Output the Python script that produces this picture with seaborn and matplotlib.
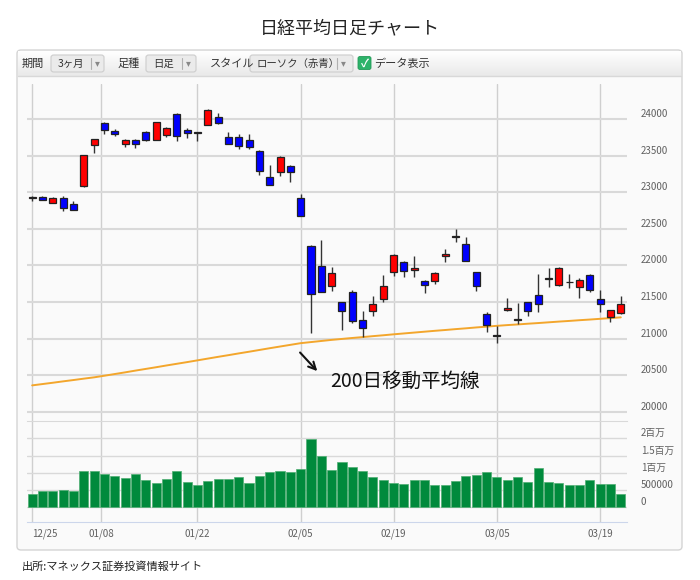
import numpy as np
import pandas as pd
import matplotlib
matplotlib.use("Agg")
import matplotlib.pyplot as plt
import seaborn as sns
from matplotlib.patches import FancyBboxPatch
from matplotlib.lines import Line2D
from matplotlib.colors import LinearSegmentedColormap

# ---------------- data ----------------
dates = ["12/25", "12/26", "12/27", "12/28", "12/29",
         "01/04", "01/05", "01/09", "01/10", "01/11", "01/12", "01/15", "01/16", "01/17",
         "01/18", "01/19", "01/22", "01/23", "01/24", "01/25", "01/26", "01/29", "01/30",
         "01/31", "02/01", "02/02", "02/05", "02/06", "02/07", "02/08", "02/09", "02/13",
         "02/14", "02/15", "02/16", "02/19", "02/20", "02/21", "02/22", "02/23", "02/26",
         "02/27", "02/28", "03/01", "03/02", "03/05", "03/06", "03/07", "03/08", "03/09",
         "03/12", "03/13", "03/14", "03/15", "03/16", "03/19", "03/20", "03/22"]

opens = [22918, 22932, 22859, 22918, 22836, 23082, 23645, 23950, 23841, 23659,
         23718, 23827, 23718, 23782, 24073, 23850, 23816, 23918, 24023, 23753,
         23753, 23708, 23566, 23209, 23278, 23365, 22926, 22262, 21997, 21713,
         21503, 21631, 21256, 21380, 21540, 21905, 22052, 21938, 21787, 21782,
         22130, 22390, 22294, 21906, 21334, 21040, 21384, 21258, 21494, 21594,
         21821, 21736, 21770, 21700, 21869, 21535, 21297, 21343]
highs = [22955, 22950, 22932, 22955, 22882, 23509, 23727, 23964, 23868, 23727,
         23732, 23841, 23964, 23895, 24086, 23873, 23820, 24133, 24078, 23826,
         23803, 23790, 23575, 23378, 23497, 23369, 22972, 22280, 22354, 21974,
         21503, 21668, 21370, 21576, 21874, 22157, 22066, 22134, 21800, 21915,
         22226, 22500, 22386, 21906, 21357, 21165, 21549, 21480, 21494, 21883,
         21960, 21974, 21883, 21823, 21883, 21663, 21384, 21576]
lows = [22886, 22891, 22855, 22745, 22759, 23077, 23532, 23795, 23768, 23614,
        23600, 23700, 23714, 23750, 23705, 23745, 23703, 23918, 23932, 23653,
        23598, 23589, 23241, 23104, 23219, 23141, 22675, 21082, 21631, 21654,
        21119, 21210, 21028, 21311, 21503, 21860, 21837, 21837, 21622, 21745,
        22043, 22326, 22066, 21654, 21092, 20936, 21380, 21197, 21311, 21366,
        21700, 21713, 21686, 21553, 21640, 21366, 21220, 21338]
closes = [22941, 22895, 22918, 22791, 22764, 23505, 23723, 23850, 23791, 23709,
          23659, 23714, 23955, 23873, 23768, 23814, 23813, 24123, 23941, 23666,
          23634, 23621, 23292, 23104, 23484, 23278, 22675, 21604, 21640, 21892,
          21380, 21242, 21142, 21466, 21713, 22143, 21924, 21965, 21736, 21896,
          22157, 22395, 22066, 21723, 21183, 21037, 21416, 21261, 21370, 21466,
          21823, 21960, 21768, 21796, 21668, 21471, 21384, 21476]
volume_m = [0.40, 0.47, 0.47, 0.49, 0.47, 1.06, 1.06, 0.96, 0.90, 0.85,
            0.96, 0.78, 0.70, 0.82, 1.04, 0.74, 0.65, 0.75, 0.82, 0.82,
            0.88, 0.71, 0.91, 1.03, 1.06, 1.01, 1.11, 1.97, 1.50, 1.08,
            1.31, 1.18, 1.06, 0.88, 0.80, 0.71, 0.68, 0.80, 0.78, 0.65,
            0.65, 0.75, 0.90, 0.93, 1.01, 0.88, 0.78, 0.88, 0.73, 1.14,
            0.74, 0.71, 0.65, 0.65, 0.78, 0.68, 0.68, 0.39]
ma200 = [20360, 20378, 20396, 20415, 20433, 20452, 20470, 20492, 20515, 20538,
         20562, 20585, 20608, 20632, 20655, 20678, 20702, 20726, 20750, 20773,
         20797, 20820, 20844, 20868, 20891, 20914, 20937, 20952, 20967, 20982,
         20995, 21008, 21020, 21033, 21045, 21058, 21070, 21082, 21094, 21106,
         21117, 21129, 21140, 21152, 21163, 21174, 21184, 21193, 21203, 21212,
         21222, 21232, 21241, 21251, 21260, 21270, 21280, 21290]

price_ticks = [20000, 20500, 21000, 21500, 22000, 22500, 23000, 23500, 24000]
date_tick_labels = ["12/25", "01/08", "01/22", "02/05", "02/19", "03/05", "03/19"]
date_tick_pos = [0, 6.7, 16, 26, 35, 45, 55]
vol_ticks = [0, 0.5, 1.0, 1.5, 2.0]
vol_tick_labels = ["0", "500000", "1百万", "1.5百万", "2百万"]

title = "日経平均日足チャート"
annotation = "200日移動平均線"
source = "出所:マネックス証券投資情報サイト"

# ---------------- style ----------------
sns.set_style("white")
plt.rcParams['font.family'] = ['Noto Sans CJK JP', 'DejaVu Sans']

W, H = 700, 580
fig = plt.figure(figsize=(7, 5.8), dpi=100)
fig.patch.set_facecolor('white')


def fx(px):
    return px / W


def fy(py):
    return 1 - py / H


# container
cont = FancyBboxPatch((fx(17), fy(550)), fx(682) - fx(17), (550 - 50) / H,
                      boxstyle="round,pad=0,rounding_size=0.006",
                      transform=fig.transFigure, fc='#fafafa', ec='#d4d4d4',
                      lw=1, zorder=0.2)
fig.add_artist(cont)

# toolbar gradient
tb = fig.add_axes([fx(18), fy(76), fx(681) - fx(18), 25 / H])
cmap = LinearSegmentedColormap.from_list("tb", ["#e9e9e9", "#ffffff"])
tb.imshow(np.linspace(0, 1, 50).reshape(-1, 1)[::-1], aspect='auto', cmap=cmap,
          extent=[0, 1, 0, 1], origin='upper')
tb.axis('off')
tb.set_zorder(0.5)
fig.add_artist(Line2D([fx(18), fx(681)], [fy(76), fy(76)], transform=fig.transFigure,
                      color='#d8d8d8', lw=1, zorder=1))

tb_font = 8
tcol = '#333333'


def ftext(x, y, s, **kw):
    kw.setdefault('fontsize', tb_font)
    kw.setdefault('color', tcol)
    kw.setdefault('va', 'center')
    return fig.text(fx(x), fy(y), s, zorder=5, **kw)


def button(x0, x1, label, divx):
    b = FancyBboxPatch((fx(x0), fy(72)), fx(x1) - fx(x0), 17 / H,
                       boxstyle="round,pad=0,rounding_size=0.004",
                       transform=fig.transFigure, fc='#ebebeb', ec='#cdcdcd',
                       lw=0.8, zorder=3)
    fig.add_artist(b)
    ftext(x0 + 7, 63.5, label, fontsize=7.5)
    fig.add_artist(Line2D([fx(divx), fx(divx)], [fy(58), fy(69)], transform=fig.transFigure,
                          color='#b0b0b0', lw=0.8, zorder=4))
    ftext(divx + 6, 63.5, "▾", ha='center', fontsize=7, color='#888888')


ftext(22, 63.5, "期間")
button(51, 104, "3ヶ月", 91)
ftext(118, 63.5, "足種")
button(146, 196, "日足", 182)
ftext(210, 63.5, "スタイル")
button(250, 353, "ローソク（赤青）", 337)
chk = FancyBboxPatch((fx(358), fy(69.5)), 13 / W, 13 / H,
                     boxstyle="round,pad=0,rounding_size=0.003",
                     transform=fig.transFigure, fc='#2db36a', ec='#239a58',
                     lw=0.6, zorder=3)
fig.add_artist(chk)
ftext(364.5, 63, "✓", ha='center', color='white', fontsize=8, fontweight='bold')
ftext(374, 63.5, "データ表示")

# title & source
fig.text(0.5, fy(28), title, ha='center', va='center', fontsize=13, color='#222222')
fig.text(fx(22), fy(567), source, ha='left', va='center', fontsize=8, color='#222222')

# ---------------- price panel ----------------
idx = np.arange(len(dates))
o = np.array(opens, float)
h = np.array(highs, float)
l = np.array(lows, float)
c = np.array(closes, float)

ax = fig.add_axes([fx(27), fy(421), fx(627) - fx(27), (421 - 84) / H])
ax.set_zorder(2)
ax.set_facecolor('none')

up = c >= o
colors = np.where(up, '#ff0000', '#0000ff')
ax.vlines(idx, l, h, color='#333333', lw=1, zorder=3)
ax.bar(idx, np.maximum(np.abs(c - o), 6), bottom=np.minimum(o, c), width=0.68,
       color=colors, edgecolor='#222222', linewidth=0.9, zorder=4)

sns.lineplot(x=idx, y=ma200, ax=ax, color='#f3a62c', lw=1.4, zorder=2)

ax.set_xlim(-0.5, 57.6)
ax.set_ylim(19873, 24480)
ax.set_yticks(price_ticks)
ax.set_yticklabels([str(t) for t in price_ticks])
ax.set_xticks(date_tick_pos)
ax.set_xticklabels([])
ax.yaxis.tick_right()
ax.tick_params(axis='y', length=0, pad=10, labelsize=7, labelcolor='#606060')
ax.tick_params(axis='x', length=0, labelbottom=False)
for t in ax.get_yticklabels():
    t.set_va('bottom')
ax.grid(True, axis='y', color='#d9d9d9', lw=1.5)
ax.grid(True, axis='x', color='#cfcfcf', lw=1)
ax.set_axisbelow(True)
for s in ax.spines.values():
    s.set_visible(False)
ax.set_xlabel('')
ax.set_ylabel('')

ax.annotate('', xy=(27.79, 20527), xytext=(25.76, 20837),
            arrowprops=dict(arrowstyle='->', color='#111111', lw=1.5, mutation_scale=13),
            zorder=6)
ax.text(28.83, 20421, annotation, fontsize=14, va='center', ha='left', color='#111111',
        zorder=6)

# ---------------- volume panel ----------------
axv = fig.add_axes([fx(27), fy(522), fx(627) - fx(27), (522 - 421) / H])
axv.set_zorder(2)
axv.set_facecolor('none')
sns.barplot(x=idx, y=volume_m, ax=axv, color='#008a3c', saturation=1, width=0.88,
            native_scale=True, edgecolor='#4fae72', linewidth=0.5, zorder=3)
axv.set_xlim(-0.5, 57.6)
axv.set_ylim(-0.425, 2.5)
axv.set_yticks(vol_ticks)
axv.set_yticklabels(vol_tick_labels)
axv.yaxis.tick_right()
axv.tick_params(axis='y', length=0, pad=10, labelsize=7, labelcolor='#606060')
for t in axv.get_yticklabels():
    t.set_va('bottom')
axv.set_xticks(date_tick_pos)
axv.set_xticklabels(date_tick_labels)
axv.tick_params(axis='x', length=0, pad=5, labelsize=7, labelcolor='#606060')
axv.get_xticklabels()[0].set_ha('left')
axv.grid(True, axis='y', color='#d9d9d9', lw=1)
axv.grid(True, axis='x', color='#cfcfcf', lw=1)
axv.set_axisbelow(True)
for k, s in axv.spines.items():
    s.set_visible(False)
axv.spines['top'].set_visible(True)
axv.spines['top'].set_color('#d9d9d9')
axv.spines['bottom'].set_visible(True)
axv.spines['bottom'].set_color('#ccd6eb')
axv.set_xlabel('')
axv.set_ylabel('')

fig.savefig('out.png', dpi=100)
